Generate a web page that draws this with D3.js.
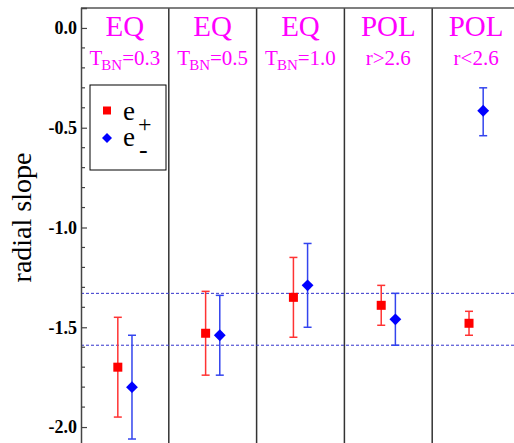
<!DOCTYPE html>
<html><head><meta charset="utf-8">
<script src="https://cdn.jsdelivr.net/npm/d3@7"></script>
</head><body style="margin:0"><svg id="c" width="514" height="443"></svg>
<script>
const panels = ["EQ1","EQ2","EQ3","POL1","POL2"];
const panelTitle = ["EQ","EQ","EQ","POL","POL"];
const panelSub = [["T","BN","=0.3"],["T","BN","=0.5"],["T","BN","=1.0"],["r>2.6","",""],["r<2.6","",""]];
const series = ["e+","e-"];
const ePlus  = [-1.70,-1.53,-1.35,-1.39,-1.48];
const ePlusLo = [-1.95,-1.74,-1.55,-1.49,-1.54];
const ePlusHi = [-1.45,-1.32,-1.15,-1.29,-1.42];
const eMinus  = [-1.80,-1.54,-1.29,-1.46,-0.415];
const eMinusLo = [-2.06,-1.74,-1.50,-1.59,-0.54];
const eMinusHi = [-1.54,-1.34,-1.08,-1.33,-0.30];
const refLines = [-1.33,-1.59];
const yTicks = [0.0,-0.5,-1.0,-1.5,-2.0];

const FONT = '"Liberation Serif"';
const svg = d3.select("#c");
const x = d3.scaleBand().domain(panels).range([81,520]);
const xs = d3.scaleBand().domain(series).range([0,x.bandwidth()]).paddingInner(0.2).paddingOuter(2.2);
const y = d3.scaleLinear().domain([-2.1,0.1]).range([447,8]);
function txt(parent){ return parent.append("text").style("font-family",FONT,"important"); }

// dividers
svg.selectAll(".div").data(panels.slice(1)).join("line")
  .attr("x1",d=>x(d)).attr("x2",d=>x(d)).attr("y1",y(0.1)).attr("y2",447)
  .attr("stroke","#333").attr("stroke-width",1.5);
// top border
svg.append("line").attr("x1",81).attr("x2",514).attr("y1",y(0.1)).attr("y2",y(0.1)).attr("stroke","#555").attr("stroke-width",1.5);

// ref lines
svg.selectAll(".ref").data(refLines).join("line")
  .attr("x1",81).attr("x2",514).attr("y1",d=>y(d)).attr("y2",d=>y(d))
  .attr("stroke","#3333cc").attr("stroke-width",1).attr("stroke-dasharray","3,2");

// y axis: ticks from the library axis, labels drawn as serif text from the same scale
const yAxis = d3.axisLeft(y).tickValues(yTicks).tickSize(-6).tickFormat("");
const ga = svg.append("g").attr("transform","translate(81,0)").call(yAxis);
ga.attr("font-family",null).attr("font-size",null);
ga.select(".domain").attr("stroke","#444").attr("stroke-width",1.5);
ga.selectAll(".tick line").attr("stroke","#444").attr("stroke-width",1.2);
ga.selectAll(".tick text").remove();
yTicks.forEach(v=>{
  txt(svg).attr("x",77).attr("y",y(v)).attr("dy","0.35em").attr("text-anchor","end")
    .attr("font-size",18).attr("font-weight","bold").attr("fill","#000").text(d3.format(".1f")(v).replace("\u2212","-"));
});
const minor = d3.range(-21,1).map(i=>i/10).filter(v=>!yTicks.some(t=>Math.abs(t-v)<1e-6));
svg.selectAll(".minor").data(minor).join("line")
  .attr("x1",81).attr("x2",85).attr("y1",d=>y(d)).attr("y2",d=>y(d)).attr("stroke","#444").attr("stroke-width",1.2);

// y label
txt(svg).attr("transform",`translate(31,${y(-0.95)}) rotate(-90)`).attr("text-anchor","middle")
  .attr("font-size",28).attr("fill","#000").text("radial slope");

// panel titles
panels.forEach((p,i)=>{
  const cx = x(p)+x.bandwidth()/2;
  txt(svg).attr("x",cx).attr("y",36).attr("text-anchor","middle")
    .attr("font-size",29).attr("fill","#ff00ff").text(panelTitle[i]);
  const t = txt(svg).attr("x",cx).attr("y",65).attr("text-anchor","middle")
    .attr("font-size",21).attr("fill","#ff00ff");
  const s = panelSub[i];
  t.append("tspan").text(s[0]);
  if (s[1]) {
    t.append("tspan").attr("font-size",15).attr("dy",5).attr("dx",-1).text(s[1]);
    t.append("tspan").attr("dy",-5).text(s[2]);
  }
});

// data
const data = [
  {s:"e+", v:ePlus, lo:ePlusLo, hi:ePlusHi, color:"#ff0000", bar:"#ff3333"},
  {s:"e-", v:eMinus, lo:eMinusLo, hi:eMinusHi, color:"#0000ff", bar:"#3344ee"}
];
data.forEach(ser=>{
  const g = svg.append("g");
  panels.forEach((p,i)=>{
    const cx = x(p)+xs(ser.s)+xs.bandwidth()/2;
    g.append("line").attr("x1",cx).attr("x2",cx).attr("y1",y(ser.lo[i])).attr("y2",y(ser.hi[i]))
      .attr("stroke",ser.bar).attr("stroke-width",1.5);
    [ser.lo[i],ser.hi[i]].forEach(v=>{
      g.append("line").attr("x1",cx-4).attr("x2",cx+4).attr("y1",y(v)).attr("y2",y(v))
        .attr("stroke",ser.bar).attr("stroke-width",1.5);
    });
    if (ser.s==="e+") {
      g.append("rect").attr("x",cx-4.5).attr("y",y(ser.v[i])-4.5).attr("width",9).attr("height",9).attr("fill",ser.color);
    } else {
      g.append("path").attr("d",d3.symbol(d3.symbolSquare,70)())
        .attr("transform",`translate(${cx},${y(ser.v[i])}) rotate(45)`).attr("fill",ser.color);
    }
  });
});

// legend
const lg = svg.append("g");
lg.append("rect").attr("x",90).attr("y",85).attr("width",76).attr("height",85).attr("fill","#fff").attr("stroke","#000").attr("stroke-width",1);
lg.append("rect").attr("x",103).attr("y",106.5).attr("width",8).attr("height",8).attr("fill","#ff0000");
lg.append("path").attr("d",d3.symbol(d3.symbolSquare,50)()).attr("transform","translate(107,138) rotate(45)").attr("fill","#0000ff");
txt(lg).attr("x",123).attr("y",120).attr("font-size",27).attr("fill","#000").text("e");
txt(lg).attr("x",138).attr("y",132).attr("font-size",24).attr("fill","#000").text("+");
txt(lg).attr("x",123).attr("y",146).attr("font-size",27).attr("fill","#000").text("e");
txt(lg).attr("x",139).attr("y",158).attr("font-size",26).attr("fill","#000").text("-");
</script></body></html>
